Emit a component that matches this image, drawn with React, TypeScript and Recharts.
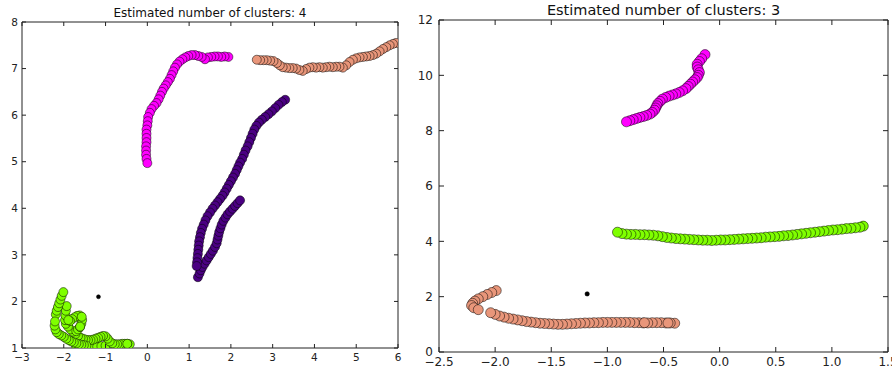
import { ScatterChart, Scatter, XAxis, YAxis } from 'recharts';

const FONT = '"DejaVu Sans", sans-serif';

type Pt = [number, number];

// tick values
const leftXTicks = [-3, -2, -1, 0, 1, 2, 3, 4, 5, 6];
const leftYTicks = [1, 2, 3, 4, 5, 6, 7, 8];
const rightXTicks = [-2.5, -2, -1.5, -1, -0.5, 0, 0.5, 1, 1.5];
const rightYTicks = [0, 2, 4, 6, 8, 10, 12];

// left panel: "Estimated number of clusters: 4"
const leftMagenta: Pt[] = [
  [1.94, 7.25], [1.85, 7.26], [1.77, 7.25], [1.69, 7.26], [1.61, 7.26], [1.53, 7.25], [1.45, 7.24], [1.38, 7.2],
  [1.3, 7.25], [1.22, 7.27], [1.14, 7.29], [1.06, 7.29], [0.98, 7.27], [0.91, 7.24], [0.84, 7.2], [0.77, 7.15],
  [0.71, 7.09], [0.66, 7.02], [0.62, 6.94], [0.58, 6.86], [0.54, 6.78], [0.49, 6.71], [0.44, 6.64], [0.39, 6.57],
  [0.35, 6.5], [0.31, 6.42], [0.27, 6.34], [0.22, 6.26], [0.16, 6.2], [0.1, 6.13], [0.06, 6.05], [0.02, 5.96],
  [0.01, 5.87], [0.0, 5.78], [-0.02, 5.69], [-0.02, 5.6], [-0.02, 5.51], [-0.02, 5.42], [-0.03, 5.33],
  [-0.03, 5.24], [-0.03, 5.15], [-0.02, 5.06], [0.0, 4.97],
];

const leftSalmon: Pt[] = [
  [5.95, 7.55], [5.88, 7.53], [5.8, 7.5], [5.72, 7.46], [5.64, 7.42], [5.56, 7.37], [5.48, 7.32], [5.4, 7.29],
  [5.32, 7.27], [5.24, 7.26], [5.16, 7.25], [5.08, 7.24], [5.0, 7.22], [4.92, 7.19], [4.84, 7.14], [4.76, 7.07],
  [4.68, 7.02], [4.6, 7.04], [4.52, 7.04], [4.44, 7.03], [4.36, 7.04], [4.28, 7.03], [4.2, 7.02], [4.12, 7.03],
  [4.04, 7.02], [3.96, 7.03], [3.88, 7.02], [3.8, 6.99], [3.72, 6.95], [3.64, 6.97], [3.56, 7.0], [3.48, 7.01],
  [3.4, 7.01], [3.32, 7.02], [3.24, 7.03], [3.17, 7.07], [3.1, 7.12], [3.02, 7.16], [2.94, 7.17], [2.86, 7.18],
  [2.78, 7.18], [2.7, 7.18], [2.62, 7.19],
];

const leftPurple: Pt[] = [
  [1.21, 2.52], [1.25, 2.6], [1.28, 2.67], [1.32, 2.74], [1.37, 2.81], [1.42, 2.88], [1.47, 2.95], [1.52, 3.02],
  [1.57, 3.09], [1.62, 3.17], [1.66, 3.25], [1.68, 3.33], [1.7, 3.41], [1.72, 3.49], [1.75, 3.57], [1.78, 3.65],
  [1.82, 3.73], [1.87, 3.8], [1.92, 3.87], [1.98, 3.93], [2.04, 3.99], [2.1, 4.05], [2.16, 4.11], [2.22, 4.17],
  [3.3, 6.33], [3.22, 6.28], [3.14, 6.22], [3.06, 6.15], [2.98, 6.08], [2.9, 6.02], [2.82, 5.96], [2.74, 5.9],
  [2.67, 5.84], [2.61, 5.77], [2.56, 5.69], [2.52, 5.6], [2.48, 5.51], [2.44, 5.42], [2.4, 5.33], [2.35, 5.24],
  [2.31, 5.15], [2.27, 5.06], [2.22, 4.98], [2.18, 4.9], [2.14, 4.82], [2.1, 4.74], [2.05, 4.66], [2.0, 4.58],
  [1.95, 4.5], [1.9, 4.42], [1.85, 4.34], [1.8, 4.27], [1.74, 4.2], [1.68, 4.13], [1.62, 4.06], [1.56, 3.99],
  [1.5, 3.91], [1.44, 3.83], [1.39, 3.74], [1.35, 3.65], [1.31, 3.56], [1.28, 3.47], [1.26, 3.38], [1.24, 3.29],
  [1.23, 3.2], [1.22, 3.11], [1.21, 3.02], [1.2, 2.93], [1.19, 2.84], [1.18, 2.76],
];

const leftGreen: Pt[] = [
  [-1.7, 1.03], [-1.6, 1.02], [-1.5, 1.03], [-1.4, 1.02], [-1.3, 1.04], [-1.2, 1.03], [-1.1, 1.04], [-1.0, 1.05],
  [-0.42, 1.08], [-0.48, 1.09], [-0.54, 1.09], [-0.6, 1.09], [-0.66, 1.08], [-0.72, 1.08], [-0.78, 1.08],
  [-0.84, 1.1], [-0.9, 1.14], [-0.95, 1.2], [-1.0, 1.25], [-1.06, 1.26], [-1.12, 1.24], [-1.18, 1.22],
  [-1.24, 1.2], [-1.3, 1.18], [-1.36, 1.17], [-1.42, 1.17], [-1.48, 1.18], [-1.54, 1.2], [-1.6, 1.22],
  [-1.66, 1.26], [-1.72, 1.3], [-1.78, 1.35], [-1.84, 1.4], [-1.9, 1.46], [-1.95, 1.52], [-1.97, 1.6],
  [-1.96, 1.7], [-1.95, 1.8], [-1.93, 1.9],
  [-1.46, 1.05], [-1.52, 1.06], [-1.58, 1.07], [-1.64, 1.08], [-1.7, 1.1], [-1.76, 1.12], [-1.82, 1.14],
  [-1.88, 1.17], [-1.94, 1.2], [-2.0, 1.24], [-2.06, 1.27], [-2.12, 1.3], [-2.17, 1.34], [-2.2, 1.4],
  [-2.22, 1.48], [-2.19, 1.72], [-2.17, 1.8], [-2.14, 1.88], [-2.11, 1.96], [-2.08, 2.04], [-2.05, 2.12],
  [-2.01, 2.2],
  [-1.7, 1.36], [-1.66, 1.4], [-1.61, 1.45], [-1.58, 1.52], [-1.56, 1.6], [-1.62, 1.7], [-1.68, 1.69],
  [-1.74, 1.66], [-1.8, 1.62], [-1.85, 1.58], [-1.89, 1.6], [-1.61, 1.46], [-1.57, 1.67], [-2.21, 1.57],
  [-0.48, 1.09],
];

const leftCenters: Pt[] = [[-1.17, 2.1]];

// right panel: "Estimated number of clusters: 3"
const rightMagenta: Pt[] = [
  [-0.13, 10.75], [-0.16, 10.6], [-0.18, 10.5], [-0.2, 10.4], [-0.2, 10.3], [-0.19, 10.2], [-0.18, 10.1],
  [-0.19, 10.0], [-0.2, 9.92], [-0.22, 9.84], [-0.24, 9.76], [-0.26, 9.68], [-0.28, 9.6], [-0.3, 9.52],
  [-0.33, 9.44], [-0.36, 9.38], [-0.39, 9.33], [-0.42, 9.29], [-0.45, 9.25], [-0.48, 9.2], [-0.51, 9.14],
  [-0.53, 9.06], [-0.55, 8.98], [-0.56, 8.9], [-0.57, 8.82], [-0.58, 8.74], [-0.6, 8.66], [-0.62, 8.6],
  [-0.65, 8.55], [-0.68, 8.51], [-0.71, 8.48], [-0.74, 8.44], [-0.77, 8.4], [-0.8, 8.36], [-0.83, 8.32],
];

const rightGreen: Pt[] = [
  [1.28, 4.55], [1.25, 4.51], [1.21, 4.49], [1.17, 4.47], [1.13, 4.46], [1.09, 4.44], [1.05, 4.42], [1.01, 4.41],
  [0.97, 4.39], [0.93, 4.37], [0.89, 4.35], [0.85, 4.33], [0.81, 4.31], [0.77, 4.29], [0.73, 4.27], [0.69, 4.25],
  [0.65, 4.23], [0.61, 4.21], [0.57, 4.2], [0.53, 4.18], [0.49, 4.17], [0.45, 4.16], [0.41, 4.15], [0.37, 4.13],
  [0.33, 4.12], [0.29, 4.11], [0.25, 4.1], [0.21, 4.09], [0.17, 4.08], [0.13, 4.07], [0.09, 4.06], [0.05, 4.05],
  [0.01, 4.05], [-0.03, 4.04], [-0.07, 4.03], [-0.11, 4.04], [-0.15, 4.04], [-0.19, 4.05], [-0.23, 4.06],
  [-0.27, 4.07], [-0.31, 4.08], [-0.35, 4.09], [-0.39, 4.1], [-0.43, 4.12], [-0.47, 4.14], [-0.51, 4.17],
  [-0.55, 4.2], [-0.59, 4.22], [-0.63, 4.23], [-0.67, 4.24], [-0.71, 4.24], [-0.75, 4.25], [-0.79, 4.25],
  [-0.83, 4.26], [-0.87, 4.28], [-0.91, 4.33],
];

const rightSalmon: Pt[] = [
  [-0.4, 1.04], [-0.44, 1.05], [-0.48, 1.05], [-0.52, 1.06], [-0.56, 1.06], [-0.6, 1.06], [-0.64, 1.05],
  [-0.68, 1.05], [-0.72, 1.06], [-0.76, 1.06], [-0.8, 1.07], [-0.84, 1.07], [-0.88, 1.07], [-0.92, 1.07],
  [-0.96, 1.07], [-1.0, 1.07], [-1.04, 1.07], [-1.08, 1.06], [-1.12, 1.06], [-1.16, 1.05], [-1.2, 1.05],
  [-1.24, 1.04], [-1.28, 1.03], [-1.32, 1.02], [-1.36, 1.01], [-1.4, 1.0], [-1.44, 1.0], [-1.48, 1.01],
  [-1.52, 1.02], [-1.56, 1.03], [-1.6, 1.04], [-1.64, 1.06], [-1.68, 1.08], [-1.72, 1.1], [-1.76, 1.13],
  [-1.8, 1.16], [-1.84, 1.19], [-1.88, 1.22], [-1.92, 1.26], [-1.96, 1.3], [-2.0, 1.36], [-2.04, 1.42],
  [-1.99, 2.22], [-2.03, 2.15], [-2.07, 2.08], [-2.11, 2.0], [-2.15, 1.92], [-2.18, 1.84], [-2.2, 1.76],
  [-2.21, 1.68], [-2.19, 1.6], [-2.15, 1.53], [-0.67, 1.06], [-0.46, 1.05],
];

const rightCenters: Pt[] = [[-1.18, 2.1]];

const toPts = (arr: Pt[]) => arr.map(([x, y]) => ({ x, y }));

const minus = (s: string) => s.replace('-', '\u2212');

const dot = (fill: string, r: number) => (p: any) =>
  <circle cx={p.cx} cy={p.cy} r={r} fill={fill} stroke="#000" strokeWidth={0.6} strokeOpacity={0.85} />;

function makeTick(side: string, fontSize: number, len: number, gap: number, fmt: (v: number) => string) {
  return (p: any) => {
    const { x, y, payload } = p;
    const v = payload.value;
    if (side === 'bottom') {
      return (
        <g>
          <line x1={x} y1={y} x2={x} y2={y - len} stroke="#222" />
          <text x={x} y={y + gap} textAnchor="middle" fontSize={fontSize} fontFamily={FONT} fill="#222">{fmt(v)}</text>
        </g>
      );
    }
    if (side === 'top') return <line x1={x} y1={y} x2={x} y2={y + len} stroke="#222" />;
    if (side === 'left') {
      return (
        <g>
          <line x1={x} y1={y} x2={x + len} y2={y} stroke="#222" />
          <text x={x - gap} y={y} dy="0.36em" textAnchor="end" fontSize={fontSize} fontFamily={FONT} fill="#222">{fmt(v)}</text>
        </g>
      );
    }
    return <line x1={x} y1={y} x2={x - len} y2={y} stroke="#222" />;
  };
}

interface PanelProps {
  width: number;
  margin: { top: number; right: number; bottom: number; left: number };
  xDomain: [number, number];
  yDomain: [number, number];
  xTicks: number[];
  yTicks: number[];
  fontSize: number;
  tickLen: number;
  xGap: number;
  yGap: number;
  xFmt: (v: number) => string;
  series: { data: Pt[]; fill: string; r: number }[];
}

function Panel(props: PanelProps) {
  const { width, margin, xDomain, yDomain, xTicks, yTicks, fontSize, tickLen, xGap, yGap, xFmt, series } = props;
  const yFmt = (v: number) => minus(String(v));
  const common = { tickLine: false, tickSize: 0, tickMargin: 0, interval: 0 as const, allowDataOverflow: true, axisLine: { stroke: '#222' } };
  // axes are 1px thick so recharts draws them; margins are reduced by 1 to compensate
  return (
    <ScatterChart width={width} height={372} margin={margin}>
      <XAxis xAxisId="b" type="number" dataKey="x" domain={xDomain} ticks={xTicks} height={1} orientation="bottom"
        tick={makeTick('bottom', fontSize, tickLen, xGap, xFmt)} {...common} />
      <XAxis xAxisId="t" type="number" dataKey="x" domain={xDomain} ticks={xTicks} height={1} orientation="top"
        tick={makeTick('top', fontSize, tickLen, xGap, xFmt)} {...common} />
      <YAxis yAxisId="l" type="number" dataKey="y" domain={yDomain} ticks={yTicks} width={1} orientation="left"
        tick={makeTick('left', fontSize, tickLen, yGap, yFmt)} {...common} />
      <YAxis yAxisId="r" type="number" dataKey="y" domain={yDomain} ticks={yTicks} width={1} orientation="right"
        tick={makeTick('right', fontSize, tickLen, yGap, yFmt)} {...common} />
      {series.map((s, i) => (
        <Scatter key={i} xAxisId="b" yAxisId="l" data={toPts(s.data)} shape={dot(s.fill, s.r)} isAnimationActive={false} />
      ))}
    </ScatterChart>
  );
}

export default function App() {
  return (
    <div style={{ position: 'absolute', left: 0, top: 0, width: 892, height: 372, background: '#fff', fontFamily: FONT }}>
      <div style={{ position: 'absolute', left: 22, top: 6, width: 376, textAlign: 'center', fontSize: 12, lineHeight: '14px', color: '#111' }}>
        Estimated number of clusters: 4
      </div>
      <div style={{ position: 'absolute', left: 439, top: 2, width: 449, textAlign: 'center', fontSize: 14.5, lineHeight: '17px', color: '#111' }}>
        Estimated number of clusters: 3
      </div>
      <div style={{ position: 'absolute', left: 0, top: 0 }}>
        <Panel
          width={420}
          margin={{ top: 21, right: 21, bottom: 23, left: 21 }}
          xDomain={[-3, 6]}
          yDomain={[1, 8]}
          xTicks={leftXTicks}
          yTicks={leftYTicks}
          fontSize={10.5}
          tickLen={4}
          xGap={13}
          yGap={4}
          xFmt={(v) => minus(String(v))}
          series={[
            { data: leftGreen, fill: '#7fff00', r: 4.5 },
            { data: leftPurple, fill: '#4b0082', r: 4.5 },
            { data: leftSalmon, fill: '#e9967a', r: 4.5 },
            { data: leftMagenta, fill: '#ff00ff', r: 4.5 },
            { data: leftCenters, fill: '#000', r: 2 },
          ]}
        />
      </div>
      <div style={{ position: 'absolute', left: 400, top: 0 }}>
        <Panel
          width={492}
          margin={{ top: 19, right: 3, bottom: 19, left: 38 }}
          xDomain={[-2.5, 1.5]}
          yDomain={[0, 12]}
          xTicks={rightXTicks}
          yTicks={rightYTicks}
          fontSize={12}
          tickLen={5}
          xGap={14}
          yGap={6}
          xFmt={(v) => minus(v.toFixed(1))}
          series={[
            { data: rightSalmon, fill: '#e9967a', r: 5 },
            { data: rightGreen, fill: '#7fff00', r: 5 },
            { data: rightMagenta, fill: '#ff00ff', r: 5 },
            { data: rightCenters, fill: '#000', r: 2.2 },
          ]}
        />
      </div>
    </div>
  );
}
